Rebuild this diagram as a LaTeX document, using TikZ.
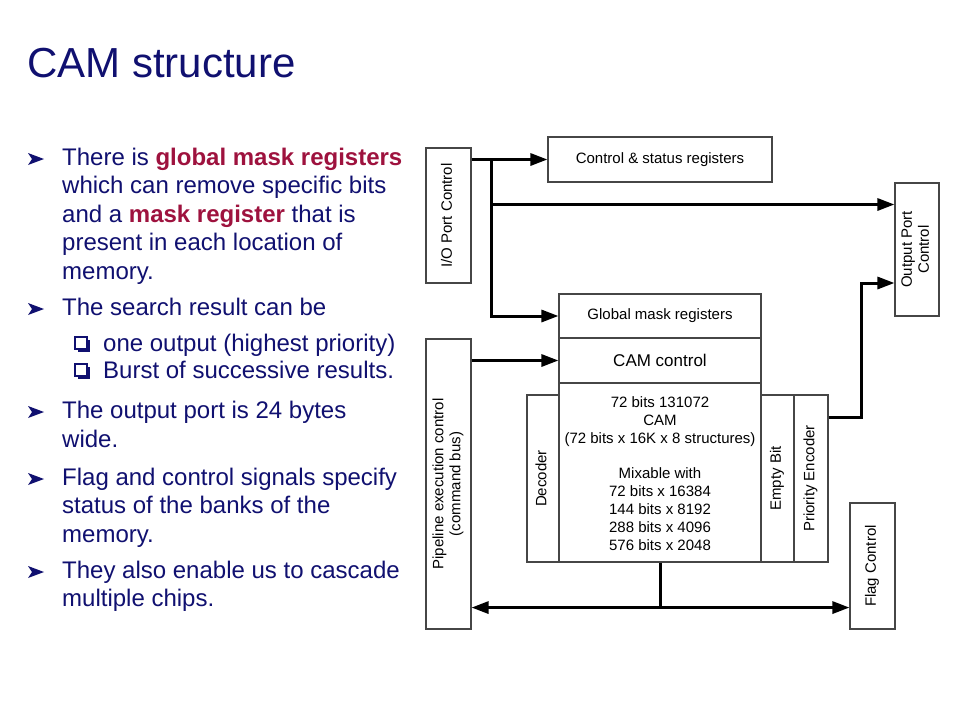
\documentclass[tikz,border=0pt]{standalone}
\usepackage{fontspec}
\setmainfont{Liberation Sans}
\usepackage{graphicx}
\usetikzlibrary{arrows.meta}
\definecolor{navy}{RGB}{16,16,112}
\definecolor{hlred}{RGB}{158,18,62}
\definecolor{boxgray}{RGB}{70,70,70}
\newcommand{\hl}[1]{\textbf{\color{hlred}#1}}
\newcommand{\vtext}[1]{\rotatebox{90}{\begin{tabular}{@{}c@{}}#1\end{tabular}}}
\tikzset{
  box/.style={draw=boxgray, line width=1.1pt, fill=white, inner sep=0pt, font=\fontsize{15}{17}\selectfont},
  wire/.style={line width=3pt},
  conn/.style={wire, -{Triangle[length=17pt,width=12pt]}},
  txtline/.style={anchor=base west, inner sep=0pt, text=navy, font=\fontsize{24}{28.5}\selectfont}
}
\begin{document}
\begin{tikzpicture}[x=1pt,y=-1pt]
\fill[white] (0,0) rectangle (960,720);
\useasboundingbox (0,0) rectangle (960,720);

\node[anchor=base west, inner sep=0pt, text=navy, font=\fontsize{42}{50}\selectfont] (title) at (27,77) {CAM structure};

% bullets
\foreach \y in {165,315,418,485,578}
  \fill[navy] (28,\y-12) -- (44,\y-6) -- (28,\y) -- (32,\y-6) -- cycle;
\foreach \y in {351,378} {
  \fill[navy] (78,\y-11) rectangle (90,\y+1);
  \filldraw[fill=white, draw=navy, line width=1.3pt] (75,\y-14) rectangle (87,\y-2);
}
\foreach \x/\y/\t [count=\i] in {
  62/165/{There is \hl{global mask registers}},
  62/193.5/{which can remove specific bits},
  62/222/{and a \hl{mask register} that is},
  62/250.5/{present in each location of},
  62/279/{memory.},
  62/315/{The search result can be},
  103/351/{one output (highest priority)},
  103/378/{Burst of successive results.},
  62/418/{The output port is 24 bytes},
  62/447/{wide.},
  62/485/{Flag and control signals specify},
  62/513.5/{status of the banks of the},
  62/542/{memory.},
  62/578/{They also enable us to cascade},
  62/606.5/{multiple chips.}}
  \node[txtline] (t\i) at (\x,\y) {\t};

% blocks
\node[box, minimum width=45pt, minimum height=135pt] (io) at (448.5,215.5) {\vtext{I/O Port Control}};
\node[box, minimum width=224pt, minimum height=45pt] (csreg) at (660,159.5) {Control \& status registers};
\node[box, minimum width=202pt, minimum height=44pt] (gmask) at (660,316) {Global mask registers};
\node[box, minimum width=202pt, minimum height=45pt, font=\fontsize{17}{20}\selectfont] (camctl) at (660,360.5) {CAM control};
\node[box, minimum width=202pt, minimum height=179pt] (cam) at (660,472.5) {};
\node[anchor=north, inner sep=0pt, align=center, font=\fontsize{15}{18}\selectfont] (camtxt) at ([yshift=-14pt]cam.north)
  {72 bits 131072\\CAM\\(72 bits x 16K x 8 structures)\\[17pt]Mixable with\\72 bits x 16384\\144 bits x 8192\\288 bits x 4096\\576 bits x 2048};
\node[box, minimum width=32pt, minimum height=167pt] (dec) at (543,478.5) {\vtext{Decoder}};
\node[box, minimum width=33pt, minimum height=167pt] (empty) at (777.5,478.5) {\vtext{Empty Bit}};
\node[box, minimum width=34pt, minimum height=167pt] (prio) at (811,478.5) {\vtext{Priority Encoder}};
\node[box, minimum width=44pt, minimum height=133pt] (opc) at (917,249.5) {\vtext{Output Port\\Control}};
\node[box, minimum width=45pt, minimum height=126pt] (flag) at (872.5,566) {\vtext{Flag Control}};
\node[box, minimum width=45pt, minimum height=290pt] (pipe) at (448.5,484) {\vtext{Pipeline execution control\\(command bus)}};

% connectors
\draw[conn] (io.east |- csreg.west) -- (csreg.west);
\path (csreg.west) ++(-56,0) coordinate (split);
\draw[conn] (split) |- (gmask.west);
\path (split) ++(0,45) coordinate (tap);
\draw[conn] (tap) -- (tap -| opc.west);
\draw[conn] (pipe.east |- camctl.west) -- (camctl.west);
\path (prio.east) ++(0,-61.5) coordinate (pout);
\draw[conn] (pout) -- ++(33,0) |- ([yshift=-33.5pt]opc.west);
\path (cam.south) ++(0,45) coordinate (bus);
\draw[wire] (cam.south) -- (bus);
\draw[conn] (bus) -- (bus -| pipe.east);
\draw[conn] (bus) -- (bus -| flag.west);
\end{tikzpicture}
\end{document}
